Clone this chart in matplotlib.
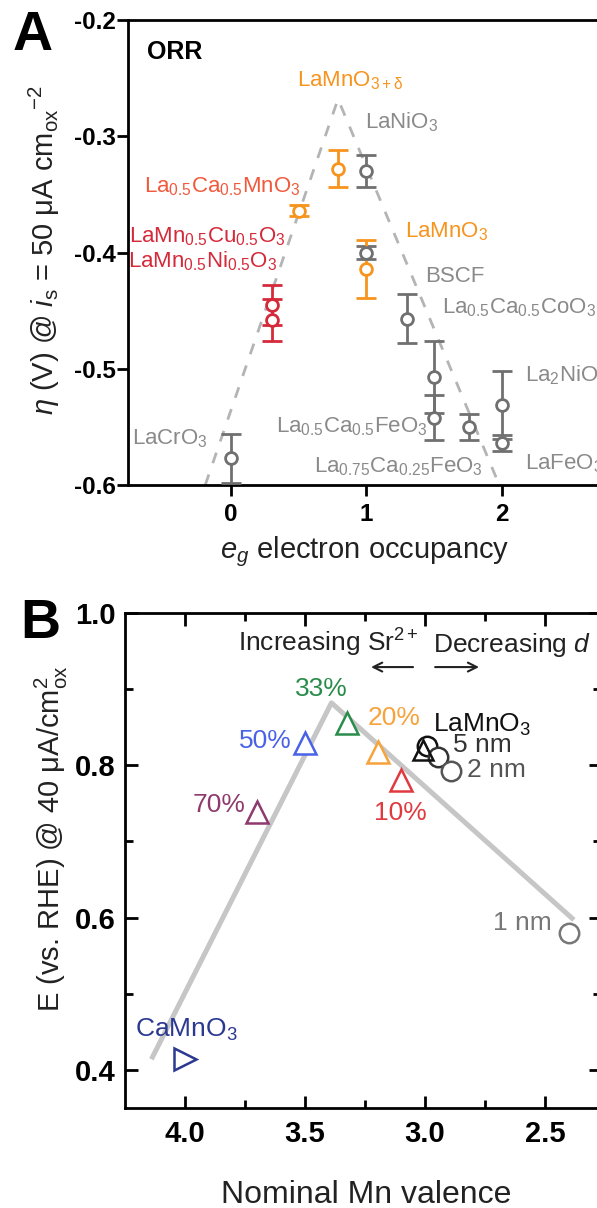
import numpy as np
import matplotlib
matplotlib.use('Agg')
import matplotlib.pyplot as plt

plt.rcParams['font.family'] = ['Liberation Sans', 'DejaVu Sans']
plt.rcParams['mathtext.fontset'] = 'custom'
plt.rcParams['mathtext.rm'] = 'Liberation Sans'
plt.rcParams['mathtext.it'] = 'Liberation Sans:italic'
plt.rcParams['mathtext.bf'] = 'Liberation Sans:bold'
plt.rcParams['mathtext.default'] = 'regular'

# ---- panel A data (eg occupancy vs ORR overpotential)
orange_x = [0.5, 0.79, 1.0]
orange_y = [-0.364, -0.328, -0.414]
orange_err = [0.005, 0.016, 0.025]

red_x = [0.3, 0.3]
red_y = [-0.445, -0.458]
red_err = [0.017, 0.018]

gray_x = [0.0, 1.0, 1.0, 1.3, 1.5, 1.5, 1.757, 2.0, 2.0]
gray_y = [-0.577, -0.330, -0.400, -0.457, -0.507, -0.542, -0.550, -0.531, -0.564]
gray_err = [0.021, 0.014, 0.006, 0.021, 0.031, 0.019, 0.011, 0.029, 0.007]

volcano_x = [-0.19, 0.79, 1.98]
volcano_y = [-0.6, -0.268, -0.6]

# ---- panel B data (Mn valence vs potential)
sr_labels = ['CaMnO$_3$', '70%', '50%', '33%', '20%', '10%']
sr_x = [4.0, 3.70, 3.50, 3.325, 3.196, 3.10]
sr_y = [0.414, 0.739, 0.829, 0.856, 0.818, 0.781]

lmo_tri_x = [3.01]
lmo_tri_y = [0.82]
film_labels = ['LaMnO$_3$', '5 nm', '2 nm', '1 nm']
film_x = [2.99, 2.946, 2.892, 2.40]
film_y = [0.826, 0.811, 0.793, 0.580]

trend_x = [4.14, 3.39, 2.38]
trend_y = [0.414, 0.882, 0.597]

W, H = 597, 1208


def px_box(left, top, right, bottom):
    return [left / W, 1 - bottom / H, (right - left) / W, (bottom - top) / H]


fig = plt.figure(figsize=(W / 100, H / 100), dpi=100)

# ================= panel A =================
axA = fig.add_axes(px_box(128, 20, 128 + 3.66 * 135.5, 485))
axA.set_xlim(-0.76, 2.9)
axA.set_ylim(-0.6, -0.2)

axA.plot(volcano_x, volcano_y, color='#b4b4b4', lw=2, ls=(0, (4.0, 4.3)), zorder=1)

orange = '#f7941d'
red = '#d42a3a'
gray_m = '#707070'
gray_t = '#8a8a8a'

for xs, ys, es, c in [(gray_x, gray_y, gray_err, gray_m),
                      (orange_x, orange_y, orange_err, orange),
                      (red_x, red_y, red_err, red)]:
    axA.errorbar(xs, ys, yerr=es, fmt='o', ms=8.5, mfc='white', mec=c, mew=2,
                 ecolor=c, elinewidth=2, capsize=7.5, capthick=2.5, zorder=3)

labA = [
    ('LaMnO$_{3+\\delta}$', 0.49, -0.2575, orange, 'left'),
    ('LaNiO$_3$', 0.99, -0.2936, gray_t, 'left'),
    ('La$_{0.5}$Ca$_{0.5}$MnO$_3$', 0.51, -0.3485, '#f05a3c', 'right'),
    ('LaMn$_{0.5}$Cu$_{0.5}$O$_3$', 0.40, -0.391, red, 'right'),
    ('LaMn$_{0.5}$Ni$_{0.5}$O$_3$', 0.34, -0.413, red, 'right'),
    ('LaMnO$_3$', 1.284, -0.387, orange, 'left'),
    ('BSCF', 1.43, -0.425, gray_t, 'left'),
    ('La$_{0.5}$Ca$_{0.5}$CoO$_3$', 1.557, -0.4524, gray_t, 'left'),
    ('La$_2$NiO$_4$', 2.17, -0.5107, gray_t, 'left'),
    ('La$_{0.5}$Ca$_{0.5}$FeO$_3$', 1.447, -0.5545, gray_t, 'right'),
    ('La$_{0.75}$Ca$_{0.25}$FeO$_3$', 1.86, -0.589, gray_t, 'right'),
    ('LaFeO$_3$', 2.17, -0.5863, gray_t, 'left'),
    ('LaCrO$_3$', -0.17, -0.5648, gray_t, 'right'),
]
for s, x, y, c, ha in labA:
    axA.text(x, y, s, color=c, fontsize=16, ha=ha, va='baseline', zorder=4)

axA.text(-0.62, -0.2335, 'ORR', fontsize=18, weight='bold', va='baseline')

axA.set_xticks([0, 1, 2])
axA.set_xticklabels(['0', '1', '2'])
axA.set_yticks([-0.6, -0.5, -0.4, -0.3, -0.2])
axA.set_yticklabels(['-0.6', '-0.5', '-0.4', '-0.3', '-0.2'])
axA.tick_params(direction='out', length=8, width=2, labelsize=17.5)
axA.tick_params(axis='y', pad=1)
axA.tick_params(axis='x', pad=5)
for t in axA.get_xticklabels() + axA.get_yticklabels():
    t.set_fontweight('bold')
for sp in axA.spines.values():
    sp.set_linewidth(2)

axA.set_xlabel(r'$\mathit{e_g}$ electron occupancy', fontsize=21, va='baseline', color='#222222')
axA.xaxis.set_label_coords(0.478, -0.157)
axA.set_ylabel(r'$\mathit{\eta}$ (V) @ $\mathit{i}_{s}$ = 50 μA cm$_{ox}{}^{-2}$',
               fontsize=21, va='center', color='#222222')
axA.yaxis.set_label_coords(-0.169, 0.505)

fig.text(13 / W, 1 - 50 / H, 'A', fontsize=40, weight='bold', va='baseline')

# ================= panel B =================
axB = fig.add_axes(px_box(125, 613, 601, 1108))
axB.set_xlim(4.25, 2.267)
axB.set_ylim(0.35, 1.0)

axB.plot(trend_x, trend_y, color='#c6c6c6', lw=3.6, solid_capstyle='butt', zorder=1)

sr_colors = ['#2b3990', '#8e3a6e', '#4a62e6', '#2a8c4a', '#f7a23b', '#e0393e']
sr_markers = ['>', '^', '^', '^', '^', '^']
for x, y, c, m in zip(sr_x, sr_y, sr_colors, sr_markers):
    axB.plot([x], [y], marker=m, ms=16, mfc='white', mec=c, mew=1.8, ls='none', zorder=3)

axB.plot(lmo_tri_x, lmo_tri_y, marker='^', ms=14, mfc='none', mec='#111111', mew=1.8,
         ls='none', zorder=4)
film_colors = ['#111111', '#333333', '#555555', '#777777']
for x, y, c in zip(film_x, film_y, film_colors):
    axB.plot([x], [y], marker='o', ms=14, mfc='white', mec=c, mew=1.8, ls='none', zorder=3)

labB = [
    ('CaMnO$_3$', 4.208, 0.443, sr_colors[0], 'left'),
    ('70%', 3.75, 0.739, sr_colors[1], 'right'),
    ('50%', 3.555, 0.823, sr_colors[2], 'right'),
    ('33%', 3.43, 0.891, sr_colors[3], 'center'),
    ('20%', 3.2375, 0.853, sr_colors[4], 'left'),
    ('10%', 3.104, 0.7285, sr_colors[5], 'center'),
    ('LaMnO$_3$', 2.967, 0.844, '#111111', 'left'),
    ('5 nm', 2.883, 0.818, '#333333', 'left'),
    ('2 nm', 2.825, 0.785, '#555555', 'left'),
    ('1 nm', 2.471, 0.584, '#777777', 'right'),
]
for s, x, y, c, ha in labB:
    axB.text(x, y, s, color=c, fontsize=19, ha=ha, va='baseline', zorder=5)

axB.text(3.779, 0.949, 'Increasing Sr$^{2+}$', fontsize=19, va='baseline', color='#222222')
axB.text(2.967, 0.949, r'Decreasing $\mathit{d}$', fontsize=19, va='baseline', color='#222222')
axB.annotate('', xy=(3.225, 0.929), xytext=(3.05, 0.929),
             arrowprops=dict(arrowstyle='->', color='#222222', lw=1.5, mutation_scale=16,
                             shrinkA=0, shrinkB=0))
axB.annotate('', xy=(2.775, 0.929), xytext=(2.958, 0.929),
             arrowprops=dict(arrowstyle='->', color='#222222', lw=1.5, mutation_scale=16,
                             shrinkA=0, shrinkB=0))

axB.set_xticks([4.0, 3.5, 3.0, 2.5])
axB.set_xticklabels(['4.0', '3.5', '3.0', '2.5'])
axB.set_xticks([3.75, 3.25, 2.75], minor=True)
axB.set_yticks([0.4, 0.6, 0.8, 1.0])
axB.set_yticklabels(['0.4', '0.6', '0.8', '1.0'])
axB.set_yticks([0.5, 0.7, 0.9], minor=True)
axB.tick_params(which='both', direction='in', top=True, right=True, width=2, labelsize=21)
axB.tick_params(which='major', length=9)
axB.tick_params(which='minor', length=6)
axB.tick_params(axis='x', which='major', pad=9)
axB.tick_params(axis='y', which='major', pad=7)
for t in axB.get_xticklabels() + axB.get_yticklabels():
    t.set_fontweight('bold')
for sp in axB.spines.values():
    sp.set_linewidth(2)

axB.set_xlabel('Nominal Mn valence', fontsize=23, va='baseline', color='#222222')
axB.xaxis.set_label_coords(0.506, -0.192)
axB.set_ylabel('E (vs. RHE) @ 40 μA/cm$^{2}_{ox}$', fontsize=21, va='center', color='#222222')
axB.yaxis.set_label_coords(-0.155, 0.545)

fig.text(20 / W, 1 - 638 / H, 'B', fontsize=40, weight='bold', va='baseline')

fig.savefig('out.png', dpi=100)
